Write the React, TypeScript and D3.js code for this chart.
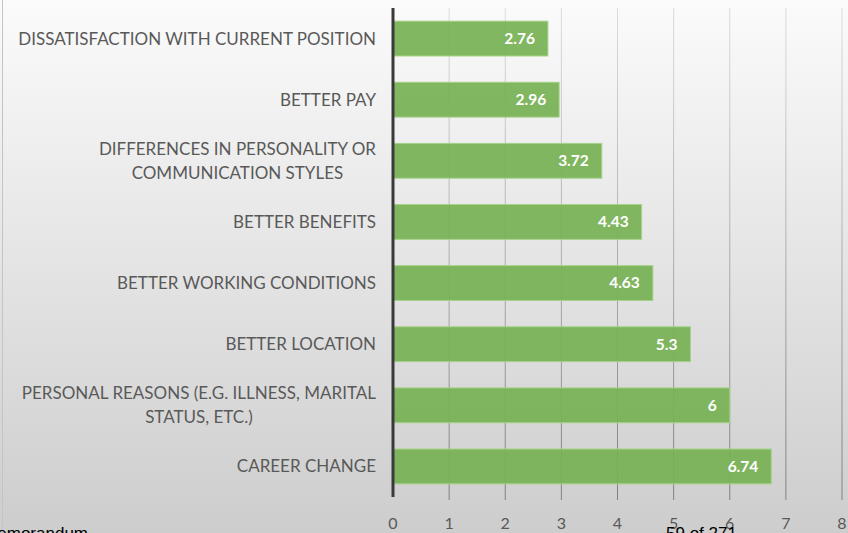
import React, { useEffect, useRef } from "react";
import * as d3 from "d3";

const categories: string[][] = [
  ["DISSATISFACTION WITH CURRENT POSITION"],
  ["BETTER PAY"],
  ["DIFFERENCES IN PERSONALITY OR", "COMMUNICATION STYLES"],
  ["BETTER BENEFITS"],
  ["BETTER WORKING CONDITIONS"],
  ["BETTER LOCATION"],
  ["PERSONAL REASONS (E.G. ILLNESS, MARITAL", "STATUS, ETC.)"],
  ["CAREER CHANGE"],
];
const values: number[] = [2.76, 2.96, 3.72, 4.43, 4.63, 5.3, 6, 6.74];
const tickValues: number[] = [0, 1, 2, 3, 4, 5, 6, 7, 8];

const W = 848;
const H = 533;

export default function App() {
  const ref = useRef<SVGSVGElement | null>(null);

  useEffect(() => {
    document.body.style.margin = "0";
    const svg = d3.select(ref.current);
    svg.selectAll("*").remove();

    const defs = svg.append("defs");
    const bg = defs.append("linearGradient").attr("id", "bg").attr("x1", 0).attr("y1", 0).attr("x2", 0).attr("y2", 1);
    bg.append("stop").attr("offset", "0%").attr("stop-color", "#fbfbfb");
    bg.append("stop").attr("offset", "100%").attr("stop-color", "#cdcdcd");
    const gg = defs.append("linearGradient").attr("id", "grid").attr("gradientUnits", "userSpaceOnUse")
      .attr("x1", 0).attr("y1", 0).attr("x2", 0).attr("y2", 500);
    gg.append("stop").attr("offset", "0%").attr("stop-color", "#dedede");
    gg.append("stop").attr("offset", "100%").attr("stop-color", "#808080");

    svg.append("rect").attr("x", 0).attr("y", 0).attr("width", W).attr("height", H).attr("fill", "url(#bg)");
    svg.append("line").attr("x1", 2.5).attr("x2", 2.5).attr("y1", 0).attr("y2", H)
      .attr("stroke", "#c4c4c4").attr("stroke-width", 1);

    const x = d3.scaleLinear().domain([0, 8]).range([393, 842]);
    const y = d3.scaleBand<number>().domain(d3.range(categories.length)).range([8, 497]).paddingInner(0.43).paddingOuter(0.215);

    // gridlines
    svg.append("g").selectAll("line").data(tickValues.filter((t) => t > 0)).join("line")
      .attr("x1", (d) => x(d)).attr("x2", (d) => x(d))
      .attr("y1", 8).attr("y2", 500)
      .attr("stroke", "url(#grid)").attr("stroke-width", 1);

    // bars
    svg.append("g").selectAll("rect").data(values).join("rect")
      .attr("x", x(0)).attr("y", (_, i) => y(i)!)
      .attr("width", (d) => x(d) - x(0)).attr("height", y.bandwidth())
      .attr("fill", "#79b255").attr("fill-opacity", 0.93)
      .attr("stroke", "#a6d28a").attr("stroke-width", 1);

    // value labels
    svg.append("g").selectAll("text").data(values).join("text")
      .attr("x", (d) => x(d) - 13).attr("y", (_, i) => y(i)! + y.bandwidth() / 2)
      .attr("dy", "0.35em").attr("text-anchor", "end")
      .attr("font-family", "Lato").attr("font-weight", 700).attr("font-size", 15.5)
      .attr("fill", "#ffffff")
      .text((d) => String(d));

    // axis line
    svg.append("line").attr("x1", x(0)).attr("x2", x(0)).attr("y1", 8).attr("y2", 497)
      .attr("stroke", "#3a3a3a").attr("stroke-width", 3);

    // tick labels
    svg.append("g").selectAll("text").data(tickValues).join("text")
      .attr("x", (d) => x(d)).attr("y", 523).attr("dy", "0.35em").attr("text-anchor", "middle")
      .attr("font-family", "Lato").attr("font-size", 16).attr("fill", "#595959")
      .text((d) => String(d));

    // category labels
    const right = 376;
    const lh = 24;
    categories.forEach((lines, i) => {
      const cy = y(i)! + y.bandwidth() / 2;
      const g = svg.append("g");
      const texts = lines.map((l, j) =>
        g.append("text")
          .attr("y", cy + (j - (lines.length - 1) / 2) * lh)
          .attr("dy", "0.35em")
          .attr("font-family", "Lato").attr("font-size", 17).attr("fill", "#595959")
          .text(l)
      );
      const widths = texts.map((t) => (t.node() as SVGTextElement).getComputedTextLength());
      const mw = Math.max(...widths);
      texts.forEach((t) => t.attr("x", right - mw / 2).attr("text-anchor", "middle"));
    });

    // page footer overlay text
    svg.append("text").attr("x", 88).attr("y", 539).attr("text-anchor", "end")
      .attr("font-family", "Liberation Sans").attr("font-size", 17).attr("fill", "#000")
      .text("Memorandum");
    svg.append("text").attr("x", 666).attr("y", 539)
      .attr("font-family", "Liberation Sans").attr("font-size", 17).attr("fill", "#000")
      .text("59 of 271");
  }, []);

  return (
    <svg ref={ref} width={W} height={H} style={{ display: "block", position: "absolute", left: 0, top: 0 }} />
  );
}
